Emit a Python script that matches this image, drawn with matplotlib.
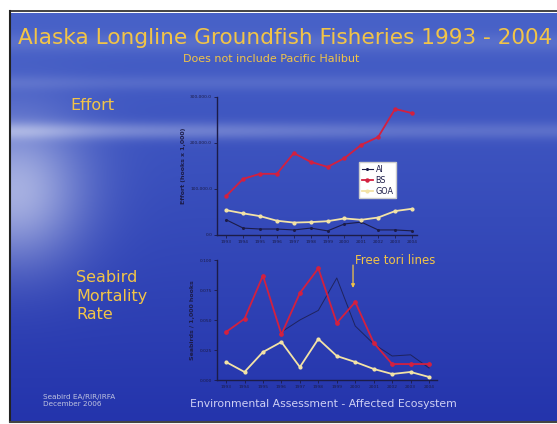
"""Alaska longline groundfish fisheries slide: effort and seabird mortality."""
import matplotlib

matplotlib.use("Agg")
import matplotlib.pyplot as plt
import numpy as np

# Data
years = ["1993", "1994", "1995", "1996", "1997", "1998",
         "1999", "2000", "2001", "2002", "2003", "2004"]

effort_ai = [33000, 15000, 13000, 13000, 11000, 15000, 9000, 24000, 28000, 11000, 11000, 9000]
effort_bs = [85000, 122000, 133000, 133000, 178000, 159000, 148000, 167000, 196000, 213000, 274000, 265000]
effort_goa = [54000, 47000, 41000, 31000, 27000, 28000, 30000, 36000, 33000, 38000, 52000, 57000]

rate_ai = [np.nan, np.nan, np.nan, 0.040, 0.050, 0.058, 0.085, 0.045, 0.030, 0.020, 0.021, 0.010]
rate_bs = [0.040, 0.051, 0.087, 0.038, 0.0725, 0.093, 0.0475, 0.065, 0.031, 0.0133, 0.0133, 0.0133]
rate_goa = [0.015, 0.0067, 0.0233, 0.0317, 0.0108, 0.0342, 0.020, 0.015, 0.0092, 0.005, 0.0067, 0.0025]

effort_ticks = [0, 100000, 200000, 300000]
rate_ticks = [0.0, 0.025, 0.05, 0.075, 0.1]

W, H = 557, 424
YELLOW = "#f2c447"
DARK = "#1c1c48"
RED = "#d3203f"
CREAM = "#f3e3a6"


def background():
    """Blue slide backdrop with a lighter band and left glow."""
    xx, yy = np.meshgrid(np.arange(W), np.arange(H))
    top = np.array([72, 98, 200]) / 255
    bot = np.array([36, 52, 172]) / 255
    t = (yy / H)[..., None]
    img = top * (1 - t) + bot * t
    glow = 0.30 * np.exp(-((yy - 122) / 9.0) ** 2) * (0.5 + 0.5 * np.exp(-(xx / 300.0) ** 2))
    glow += 0.55 * np.exp(-((xx - 5) / 70.0) ** 2 - ((yy - 185) / 75.0) ** 2)
    glow += 0.10 * np.exp(-((yy - 72) / 8.0) ** 2)
    glow += 0.10 * np.exp(-((yy - 30) / 10.0) ** 2)
    glow = np.clip(glow, 0, 0.8)[..., None]
    return img * (1 - glow) + glow


def style_axes(ax):
    ax.set_facecolor("none")
    for side in ["top", "right"]:
        ax.spines[side].set_visible(False)
    for side in ["left", "bottom"]:
        ax.spines[side].set_color(DARK)
        ax.spines[side].set_linewidth(1.0)
    ax.tick_params(colors=DARK, labelsize=3.2, length=2, width=0.6, pad=1.5)
    ax.set_xticks(range(len(years)))
    ax.set_xticklabels(years)


def main():
    fig = plt.figure(figsize=(W / 100, H / 100), dpi=100)
    fig.patch.set_facecolor("white")

    bg = fig.add_axes([10 / W, 3 / H, 1 - 10 / W, 408 / H])
    bg.imshow(background(), aspect="auto", interpolation="bilinear")
    bg.set_axis_off()
    # black frame edges
    fig.add_artist(plt.Line2D([10 / W, 10 / W], [3 / H, 413 / H], color="#222222", lw=1.5))
    fig.add_artist(plt.Line2D([10 / W, 1], [413 / H, 413 / H], color="#222222", lw=1.2))
    fig.add_artist(plt.Line2D([10 / W, 1], [2 / H, 2 / H], color="#444444", lw=1.5))

    # Effort chart
    ax1 = fig.add_axes([217 / W, 1 - 235 / H, 200 / W, 138 / H])
    style_axes(ax1)
    x = np.arange(len(years))
    ax1.plot(x, effort_ai, color=DARK, lw=0.8, marker="o", ms=1.2, label="AI")
    ax1.plot(x, effort_bs, color=RED, lw=1.3, marker="o", ms=2.2, label="BS")
    ax1.plot(x, effort_goa, color=CREAM, lw=1.3, marker="o", ms=2.0, label="GOA")
    ax1.set_xlim(-0.55, 11.3)
    ax1.set_ylim(0, 300000)
    ax1.set_yticks(effort_ticks)
    ax1.set_yticklabels(["0.0", "100,000.0", "200,000.0", "300,000.0"])
    ax1.set_ylabel("Effort (hooks x 1,000)", fontsize=4.5, color=DARK, labelpad=3,
                   fontweight="bold")
    leg = ax1.legend(loc="upper left", bbox_to_anchor=(0.69, 0.56), fontsize=5.8,
                     frameon=True, fancybox=False, framealpha=1, handlelength=1.4,
                     borderpad=0.35, labelspacing=0.25, handletextpad=0.3)
    leg.get_frame().set_facecolor("white")
    leg.get_frame().set_edgecolor("#cccccc")
    for txt in leg.get_texts():
        txt.set_color(DARK)

    # Seabird mortality rate chart
    ax2 = fig.add_axes([217 / W, 1 - 380 / H, 220 / W, 120 / H])
    style_axes(ax2)
    ax2.plot(x, rate_ai, color=DARK, lw=0.7, alpha=0.8)
    ax2.plot(x, rate_bs, color=RED, lw=1.3, marker="o", ms=2.4)
    ax2.plot(x, rate_goa, color=CREAM, lw=1.3, marker="o", ms=2.0)
    ax2.set_xlim(-0.49, 11.43)
    ax2.set_ylim(0, 0.1)
    ax2.set_yticks(rate_ticks)
    ax2.set_yticklabels([f"{v:.3f}" for v in rate_ticks])
    ax2.set_ylabel("Seabirds / 1,000 hooks", fontsize=4.5, color=DARK, labelpad=3,
                   fontweight="bold")
    ax2.annotate("", xy=(6.88, 0.0767), xytext=(6.88, 0.0958),
                 arrowprops=dict(arrowstyle="-|>", color=YELLOW, lw=0.9,
                                 mutation_scale=5, shrinkA=0, shrinkB=0),
                 annotation_clip=False)
    ax2.text(6.98, 0.1, "Free tori lines", color=YELLOW, fontsize=8.5,
             ha="left", va="center", clip_on=False)

    # Slide text
    fig.text(18 / W, 1 - 38 / H, "Alaska Longline Groundfish Fisheries 1993 - 2004",
             color=YELLOW, fontsize=15.6, ha="left", va="center")
    fig.text(271 / W, 1 - 59 / H, "Does not include Pacific Halibut",
             color=YELLOW, fontsize=8.0, ha="center", va="center")
    fig.text(70 / W, 1 - 105 / H, "Effort", color=YELLOW, fontsize=11.5,
             ha="left", va="center")
    fig.text(76 / W, 1 - 296 / H, "Seabird\nMortality\nRate", color=YELLOW,
             fontsize=11.5, ha="left", va="center", linespacing=1.3)
    fig.text(43 / W, 1 - 400 / H, "Seabird EA/RIR/IRFA\nDecember 2006",
             color="#c0c4e0", fontsize=5.2, ha="left", va="center", linespacing=1.2)
    fig.text(323 / W, 1 - 404 / H, "Environmental Assessment - Affected Ecosystem",
             color="#cfd0f4", fontsize=7.8, ha="center", va="center")

    fig.savefig("out.png", dpi=100)


if __name__ == "__main__":
    main()
